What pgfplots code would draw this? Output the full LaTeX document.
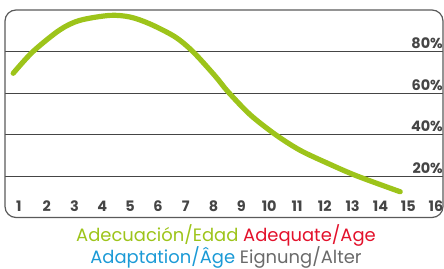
\documentclass[border=0pt]{standalone}
\usepackage{fontspec}
\setmainfont{Poppins}
\usepackage{pgfplots}
\pgfplotsset{compat=1.18}
\definecolor{lgreen}{HTML}{9DC41A}
\definecolor{lred}{HTML}{E3112B}
\definecolor{lblue}{HTML}{1B9AD6}
\definecolor{lgray}{HTML}{6A6A6A}
\definecolor{tickgray}{HTML}{454545}
\definecolor{framegray}{HTML}{5A5A5A}
\begin{document}
\begin{tikzpicture}
\useasboundingbox (-5bp,-51.5bp) rectangle (439bp,217.5bp);
\begin{axis}[
  at={(0,0)}, anchor=south west,
  scale only axis,
  width=438bp, height=207.5bp,
  xmin=0.5, xmax=16.25,
  ymin=0, ymax=100,
  axis line style={draw=none},
  clip=false,
  xtick={1,...,16},
  ytick={20,40,60,80},
  yticklabel pos=right,
  major tick length=0pt,
  ymajorgrids,
  grid style={draw=tickgray, line width=0.8bp},
  /pgf/number format/assume math mode=true,
  yticklabel={\pgfmathprintnumber{\tick}\%},
  xticklabel style={anchor=base, yshift=5.8bp, font=\fontsize{14.5}{15}\selectfont\bfseries, text=tickgray, inner sep=0pt},
  yticklabel style={anchor=base east, yshift=2.5bp, xshift=0bp, font=\fontsize{14.5}{15}\selectfont\bfseries, text=tickgray, inner sep=0pt},
]
\draw[framegray, line width=1.2bp, rounded corners=11bp] (rel axis cs:0,0) rectangle (rel axis cs:1,1);
\addplot[lgreen, line width=5.2bp, line cap=round, smooth, tension=0.5] coordinates {
 (0.795,69.5) (1.50,79.9) (2.47,90.4) (3.19,95.0) (4.27,97.4) (5.0,96.6) (5.71,93.3)
 (6.61,87.1) (7.26,79.9) (8.05,68.3) (8.52,60.6) (9.31,49.6) (10.21,40.1)
 (11.11,32.4) (12.19,25.6) (13.16,20.0) (14.71,12.4)
};
\node[anchor=base, font=\fontsize{18}{20}\selectfont, inner sep=0pt] at ([xshift=2bp, yshift=-24.2bp]rel axis cs:0.5,0) {\textcolor{lgreen}{Adecuación/Edad} \textcolor{lred}{Adequate/Age}};
\node[anchor=base, font=\fontsize{18}{20}\selectfont, inner sep=0pt] at ([xshift=2bp, yshift=-45.7bp]rel axis cs:0.5,0) {\textcolor{lblue}{Adaptation/Âge} \textcolor{lgray}{Eignung/Alter}};
\end{axis}
\end{tikzpicture}
\end{document}
